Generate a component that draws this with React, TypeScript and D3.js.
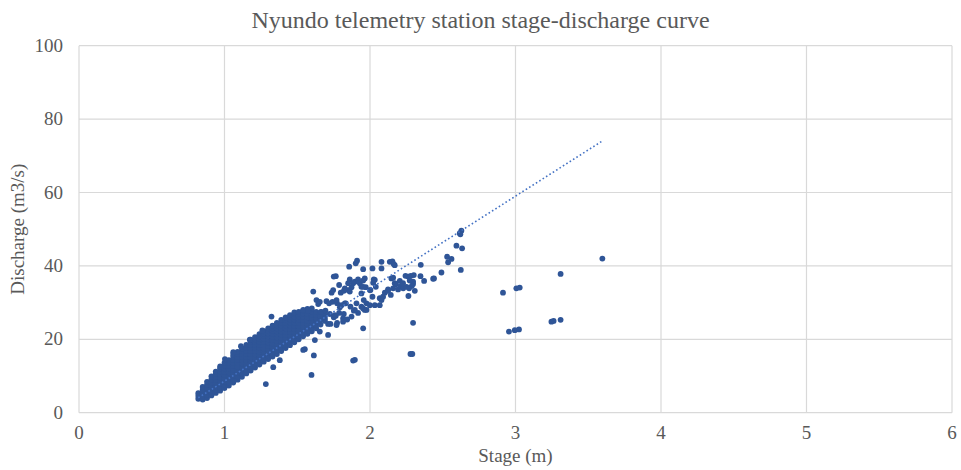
import React from "react";
import * as d3 from "d3";

const title = "Nyundo telemetry station stage-discharge curve";
const xLabel = "Stage (m)";
const yLabel = "Discharge (m3/s)";
const xTicks = [0, 1, 2, 3, 4, 5, 6];
const yTicks = [0, 20, 40, 60, 80, 100];

// Dense band of observations: stage columns and the discharges read in each column
const bandStages = [0.82, 0.85, 0.88, 0.91, 0.94, 0.97, 1.0, 1.03, 1.06, 1.09, 1.12, 1.15, 1.18, 1.21, 1.24, 1.27, 1.3, 1.33, 1.36, 1.39, 1.42, 1.45, 1.48, 1.51, 1.54, 1.57, 1.6, 1.63, 1.66, 1.69];
const bandDischarges = [
  [3.8, 4.6, 5.3],
  [3.6, 4.5, 5.4, 6.2, 7.0],
  [4.0, 4.9, 5.8, 6.7, 7.6, 8.4],
  [4.7, 5.6, 6.5, 7.4, 8.3, 9.1, 9.9],
  [5.4, 6.3, 7.2, 8.1, 9.0, 9.8, 10.6, 11.2],
  [6.0, 6.9, 7.8, 8.7, 9.6, 10.5, 11.3, 12.1, 12.6],
  [6.7, 7.6, 8.5, 9.4, 10.3, 11.2, 12.1, 12.9, 13.6],
  [7.4, 8.3, 9.2, 10.1, 11.0, 11.9, 12.8, 13.6, 14.3],
  [8.2, 9.1, 10.0, 10.9, 11.8, 12.7, 13.6, 14.4, 15.2, 15.8],
  [9.0, 9.9, 10.8, 11.7, 12.6, 13.5, 14.4, 15.2, 16.0, 16.6],
  [9.8, 10.7, 11.6, 12.5, 13.4, 14.3, 15.2, 16.0, 16.8, 17.5],
  [10.7, 11.6, 12.5, 13.4, 14.3, 15.2, 16.1, 16.9, 17.7, 18.5],
  [11.5, 12.4, 13.3, 14.2, 15.1, 16.0, 16.9, 17.7, 18.5, 19.3, 19.9],
  [12.3, 13.2, 14.1, 15.0, 15.9, 16.8, 17.7, 18.5, 19.3, 20.0, 20.6],
  [13.1, 14.0, 14.9, 15.8, 16.7, 17.6, 18.5, 19.3, 20.1, 20.8, 21.4],
  [13.9, 14.8, 15.7, 16.6, 17.5, 18.4, 19.3, 20.1, 20.9, 21.6, 22.2],
  [14.6, 15.5, 16.4, 17.3, 18.2, 19.1, 20.0, 20.8, 21.6, 22.3, 23.0],
  [15.3, 16.2, 17.1, 18.0, 18.9, 19.8, 20.7, 21.5, 22.3, 23.0, 23.7],
  [16.0, 16.9, 17.8, 18.7, 19.6, 20.5, 21.4, 22.2, 23.0, 23.8, 24.5],
  [16.8, 17.7, 18.6, 19.5, 20.4, 21.3, 22.2, 23.0, 23.8, 24.6, 25.3],
  [17.6, 18.5, 19.4, 20.3, 21.2, 22.1, 23.0, 23.8, 24.6, 25.4, 26.0],
  [18.4, 19.3, 20.2, 21.1, 22.0, 22.9, 23.8, 24.6, 25.4, 26.1, 26.6],
  [19.2, 20.1, 21.0, 21.9, 22.8, 23.7, 24.6, 25.4, 26.2, 26.9, 27.3],
  [20.0, 20.9, 21.8, 22.7, 23.6, 24.5, 25.4, 26.2, 27.0, 27.5],
  [20.8, 21.7, 22.6, 23.5, 24.4, 25.3, 26.2, 27.0, 27.8],
  [21.5, 22.4, 23.3, 24.2, 25.1, 26.0, 26.9, 27.7, 28.3],
  [22.2, 23.1, 24.0, 24.9, 25.8, 26.7, 27.6, 28.4],
  [23.0, 23.9, 24.8, 25.7, 26.6, 27.5],
  [24.0, 25.2, 26.4, 27.4],
  [25.0, 26.5],
];

// Scattered observations (stage m, discharge m3/s)
const scatterPoints: [number, number][] = [
  [1.003, 14.6], [1.06, 16.5], [1.113, 18.1], [1.174, 19.9], [1.26, 22.4], [1.323, 26.2],
  [1.284, 7.8], [1.335, 12.4], [1.38, 14.3], [1.598, 10.3], [1.614, 15.6], [1.552, 17.3], [1.541, 17.1],
  [1.632, 30.7], [1.655, 30.2], [1.644, 29.6], [1.701, 30.4], [1.719, 29.8], [1.742, 30.2], [1.774, 29.8],
  [1.804, 29.3], [1.834, 29.8], [1.866, 28.9], [1.907, 29.8], [1.941, 28.9], [1.976, 29.8], [1.964, 28.0],
  [1.541, 28.0], [1.575, 27.8], [1.667, 27.5], [1.694, 27.8], [1.724, 26.9], [1.751, 26.0], [1.788, 27.2],
  [1.82, 26.9], [1.843, 25.4], [1.889, 27.8], [1.918, 27.2], [1.815, 24.8], [1.774, 24.5], [1.712, 24.2],
  [1.69, 25.7], [1.728, 24.2], [1.765, 26.4], [1.953, 23.0], [1.712, 21.2], [1.621, 19.8], [1.655, 22.1],
  [1.61, 33.0], [1.788, 34.8], [1.747, 33.4], [1.736, 32.7], [1.799, 32.7], [1.82, 33.2], [1.85, 33.4],
  [1.873, 34.2], [1.941, 34.3], [1.971, 34.2], [1.896, 35.7], [1.918, 36.3], [1.93, 35.3], [1.953, 36.0],
  [1.964, 36.6], [1.861, 36.3], [1.765, 37.2], [1.751, 37.1], [1.857, 39.8], [1.902, 40.7], [1.911, 41.4],
  [1.953, 39.1], [2.017, 39.3], [2.033, 36.2], [1.999, 33.4], [2.04, 34.3], [2.067, 31.2], [2.033, 29.3],
  [2.067, 29.3], [2.026, 36.3], [2.022, 35.4], [2.003, 33.4], [1.953, 34.3], [1.941, 32.5], [1.957, 30.7],
  [2.017, 31.6], [1.999, 29.3], [1.953, 28.4], [1.976, 28.0], [1.884, 35.3], [1.861, 33.0], [1.827, 33.9],
  [1.85, 35.3], [1.77, 30.7], [1.793, 28.7], [1.827, 29.8], [1.758, 26.6], [1.815, 25.7], [1.77, 23.9],
  [1.873, 26.2], [1.896, 28.0],
  [2.079, 41.1], [2.079, 39.3], [2.136, 41.1], [2.154, 41.2], [2.17, 40.2], [2.163, 40.5], [2.159, 36.8],
  [2.205, 35.9], [2.177, 35.0], [2.147, 36.6], [2.17, 35.3], [2.124, 33.6], [2.102, 32.7], [2.09, 31.6],
  [2.079, 30.7], [2.143, 32.1], [2.159, 33.9], [2.124, 33.2], [2.193, 33.6], [2.209, 34.5], [2.228, 33.9],
  [2.251, 34.3], [2.227, 35.3], [2.244, 37.3], [2.262, 37.1], [2.28, 37.3], [2.296, 35.7], [2.296, 35.1],
  [2.287, 34.5], [2.273, 36.0], [2.301, 37.5], [2.308, 33.2], [2.264, 31.8], [2.269, 33.9], [2.347, 37.2],
  [2.349, 40.3], [2.372, 35.9], [2.434, 36.5], [2.44, 36.6], [2.491, 38.2], [2.53, 42.5], [2.56, 41.9],
  [2.537, 41.0], [2.624, 38.9], [2.594, 45.5], [2.633, 44.8], [2.628, 49.6], [2.617, 48.9], [2.621, 48.6],
  [2.296, 24.5], [2.291, 16.0], [2.278, 16.0], [1.884, 14.2], [1.896, 14.4],
  [2.914, 32.7], [3.006, 33.9], [3.029, 34.1], [3.31, 37.8], [3.597, 42.0], [2.955, 22.1], [2.995, 22.5],
  [3.024, 22.7], [3.247, 24.8], [3.262, 25.0], [3.31, 25.3],
];

// Linear trendline (Excel style)
const trendSlope = 25.2;
const trendIntercept = -16.6;
const trendStages = [0.82, 3.6];

const W = 961;
const H = 470;
const plot = { left: 79, right: 952, top: 45.7, bottom: 412.7 };
const serif = "'Liberation Serif', 'Times New Roman', serif";
const textColor = "#595959";

export default function App() {
  const x = d3.scaleLinear().domain([0, 6]).range([plot.left, plot.right]);
  const y = d3.scaleLinear().domain([0, 100]).range([plot.bottom, plot.top]);

  const points: [number, number][] = [];
  bandStages.forEach((s, i) => bandDischarges[i].forEach((q) => points.push([s, q])));
  scatterPoints.forEach((p) => points.push(p));

  const trendLine = d3
    .line<number>()
    .x((s) => x(s))
    .y((s) => y(trendSlope * s + trendIntercept))(trendStages);

  return (
    <svg width={W} height={H} style={{ position: "absolute", left: 0, top: 0, background: "#fff" }}>
      <rect x={0} y={0} width={W} height={H} fill="#fff" />
      {yTicks.map((t) => (
        <line key={"gy" + t} x1={plot.left} x2={plot.right} y1={y(t)} y2={y(t)} stroke="#D9D9D9" strokeWidth={1.2} />
      ))}
      {xTicks.map((t) => (
        <line key={"gx" + t} x1={x(t)} x2={x(t)} y1={plot.top} y2={plot.bottom} stroke="#D9D9D9" strokeWidth={1.2} />
      ))}
      {yTicks.map((t) => (
        <text key={"ty" + t} x={63} y={y(t) + 6} textAnchor="end" fontFamily={serif} fontSize={19} fill={textColor}>
          {t}
        </text>
      ))}
      {xTicks.map((t) => (
        <text key={"tx" + t} x={x(t)} y={438.5} textAnchor="middle" fontFamily={serif} fontSize={19} fill={textColor}>
          {t}
        </text>
      ))}
      <g>
        {points.map((p, i) => (
          <circle key={i} cx={x(p[0])} cy={y(p[1])} r={2.9} fill="#2F5597" />
        ))}
      </g>
      <path d={trendLine || ""} fill="none" stroke="#4472C4" strokeWidth={1.6} strokeDasharray="1.6,2.4" />
      <text x={W / 2} y={28} textAnchor="middle" fontFamily={serif} fontSize={24} fill={textColor}>
        {title}
      </text>
      <text x={(plot.left + plot.right) / 2} y={462} textAnchor="middle" fontFamily={serif} fontSize={19} fill={textColor}>
        {xLabel}
      </text>
      <text
        transform={`translate(24, ${(plot.top + plot.bottom) / 2}) rotate(-90)`}
        textAnchor="middle"
        fontFamily={serif}
        fontSize={19}
        fill={textColor}
      >
        {yLabel}
      </text>
    </svg>
  );
}
